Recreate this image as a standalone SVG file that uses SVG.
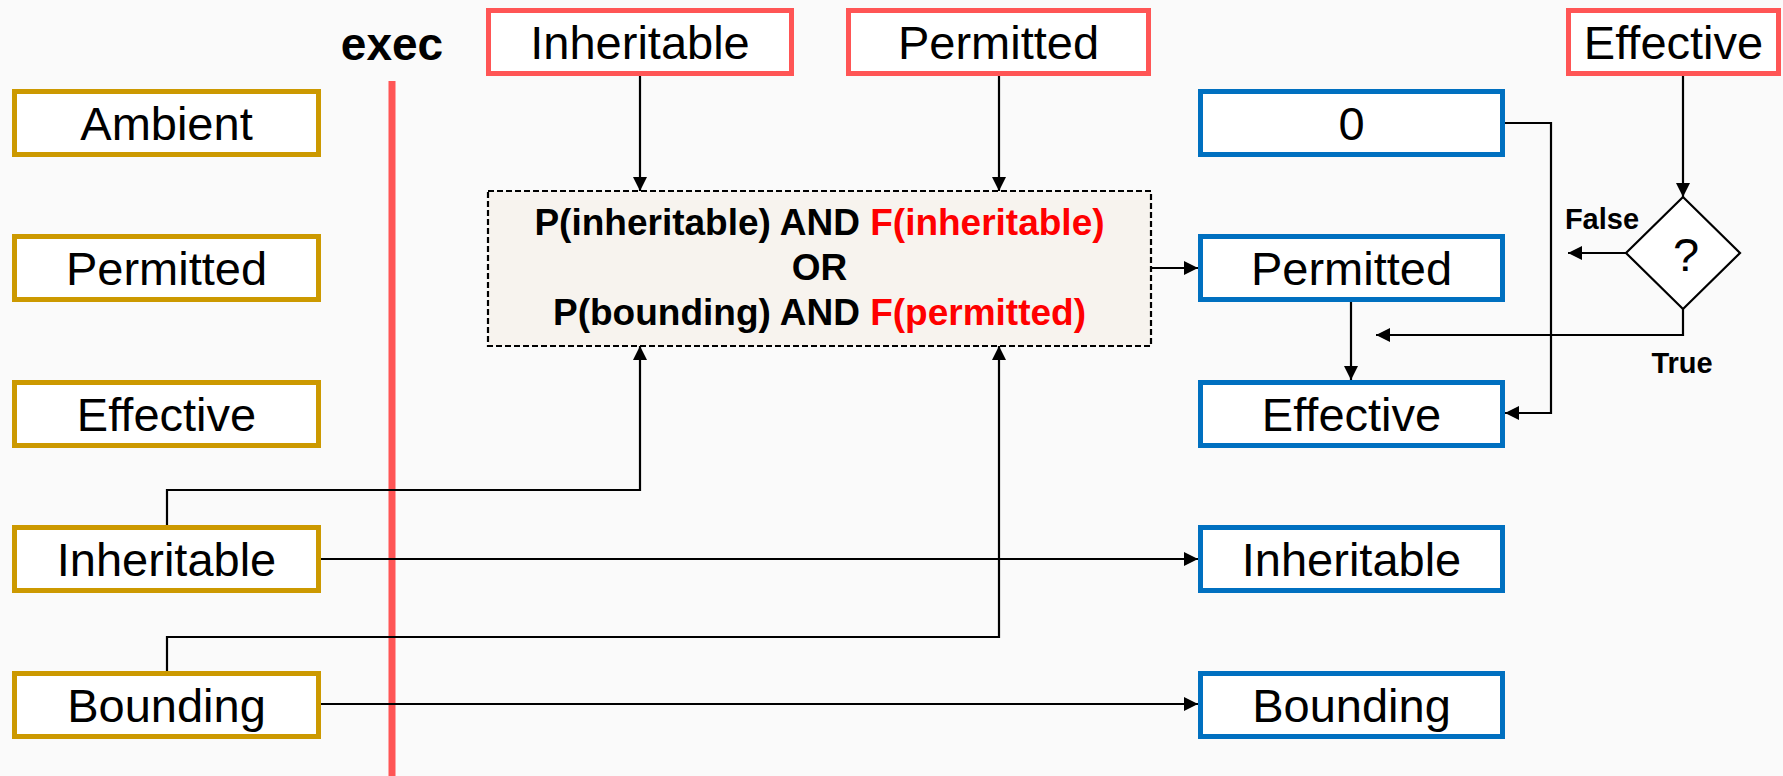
<svg xmlns="http://www.w3.org/2000/svg" width="1783" height="776" viewBox="0 0 1783 776">
<style>
.bg{fill:#FAFAFA}
.gold{fill:#FFFFFF;stroke:#CC9900;stroke-width:5}
.red{fill:#FFFFFF;stroke:#FF5555;stroke-width:5}
.blue{fill:#FFFFFF;stroke:#0070C0;stroke-width:5}
.t{font-family:"Liberation Sans",Arial,sans-serif;font-size:47px;fill:#000;text-anchor:middle}
.b{font-family:"Liberation Sans",Arial,sans-serif;font-weight:bold;fill:#000;text-anchor:middle}
.c{fill:none;stroke:#000;stroke-width:2.2}
.rt{fill:#FF0000}
</style>
<defs>
<marker id="ah" viewBox="0 0 10 10" refX="10" refY="5" markerUnits="userSpaceOnUse" markerWidth="15" markerHeight="14" orient="auto">
<path d="M0,0 L10,5 L0,10 z" fill="#000"/>
</marker>
</defs>
<rect class="bg" x="0" y="0" width="1783" height="776"/>

<g id="exec-label">
<text class="b" x="392" y="60" font-size="46">exec</text>
<line x1="392" y1="81" x2="392" y2="776" stroke="#FF5555" stroke-width="7"/>
</g>

<g id="old-ambient"><rect class="gold" x="14.5" y="91.5" width="304" height="63"/><text class="t" x="166.5" y="140">Ambient</text></g>
<g id="old-permitted"><rect class="gold" x="14.5" y="236.5" width="304" height="63"/><text class="t" x="166.5" y="285">Permitted</text></g>
<g id="old-effective"><rect class="gold" x="14.5" y="382.5" width="304" height="63"/><text class="t" x="166.5" y="431">Effective</text></g>
<g id="old-inheritable"><rect class="gold" x="14.5" y="527.5" width="304" height="63"/><text class="t" x="166.5" y="576">Inheritable</text></g>
<g id="old-bounding"><rect class="gold" x="14.5" y="673.5" width="304" height="63"/><text class="t" x="166.5" y="722">Bounding</text></g>

<g id="file-inheritable"><rect class="red" x="488.5" y="10.5" width="303" height="63"/><text class="t" x="640" y="59">Inheritable</text></g>
<g id="file-permitted"><rect class="red" x="848.5" y="10.5" width="300" height="63"/><text class="t" x="998.5" y="59">Permitted</text></g>
<g id="file-effective"><rect class="red" x="1568.5" y="10.5" width="210" height="63"/><text class="t" x="1673.5" y="59">Effective</text></g>

<g id="formula">
<rect x="488" y="191" width="663" height="155" fill="#F7F3EE" stroke="#000" stroke-width="2.2" stroke-dasharray="6 3"/>
<text class="b" x="819.5" y="235" font-size="37">P(inheritable) AND <tspan class="rt">F(inheritable)</tspan></text>
<text class="b" x="819.5" y="280" font-size="37">OR</text>
<text class="b" x="819.5" y="325" font-size="37">P(bounding) AND <tspan class="rt">F(permitted)</tspan></text>
</g>

<g id="new-zero"><rect class="blue" x="1200.5" y="91.5" width="302" height="63"/><text class="t" x="1351.5" y="140">0</text></g>
<g id="new-permitted"><rect class="blue" x="1200.5" y="236.5" width="302" height="63"/><text class="t" x="1351.5" y="285">Permitted</text></g>
<g id="new-effective"><rect class="blue" x="1200.5" y="382.5" width="302" height="63"/><text class="t" x="1351.5" y="431">Effective</text></g>
<g id="new-inheritable"><rect class="blue" x="1200.5" y="527.5" width="302" height="63"/><text class="t" x="1351.5" y="576">Inheritable</text></g>
<g id="new-bounding"><rect class="blue" x="1200.5" y="673.5" width="302" height="63"/><text class="t" x="1351.5" y="722">Bounding</text></g>

<g id="decision">
<polygon points="1683,197 1740,253 1683,309 1626,253" fill="#FFFFFF" stroke="#000" stroke-width="2.2"/>
<text class="t" x="1686" y="271" font-size="47">?</text>
<text class="b" x="1602" y="229" font-size="29">False</text>
<text class="b" x="1682" y="373" font-size="29">True</text>
</g>

<g id="connectors">
<path class="c" d="M640,76 V191" marker-end="url(#ah)"/>
<path class="c" d="M999,76 V191" marker-end="url(#ah)"/>
<path class="c" d="M167,525 V490 H640 V346" marker-end="url(#ah)"/>
<path class="c" d="M167,671 V637 H999 V346" marker-end="url(#ah)"/>
<path class="c" d="M321,559 H1198" marker-end="url(#ah)"/>
<path class="c" d="M321,704 H1198" marker-end="url(#ah)"/>
<path class="c" d="M1151,268 H1198" marker-end="url(#ah)"/>
<path class="c" d="M1351,302 V380" marker-end="url(#ah)"/>
<path class="c" d="M1505,123 H1551 V413 H1505" marker-end="url(#ah)"/>
<path class="c" d="M1683,76 V197" marker-end="url(#ah)"/>
<path class="c" d="M1626,253 H1568" marker-end="url(#ah)"/>
<path class="c" d="M1683,309 V335 H1376" marker-end="url(#ah)"/>
</g>
</svg>
